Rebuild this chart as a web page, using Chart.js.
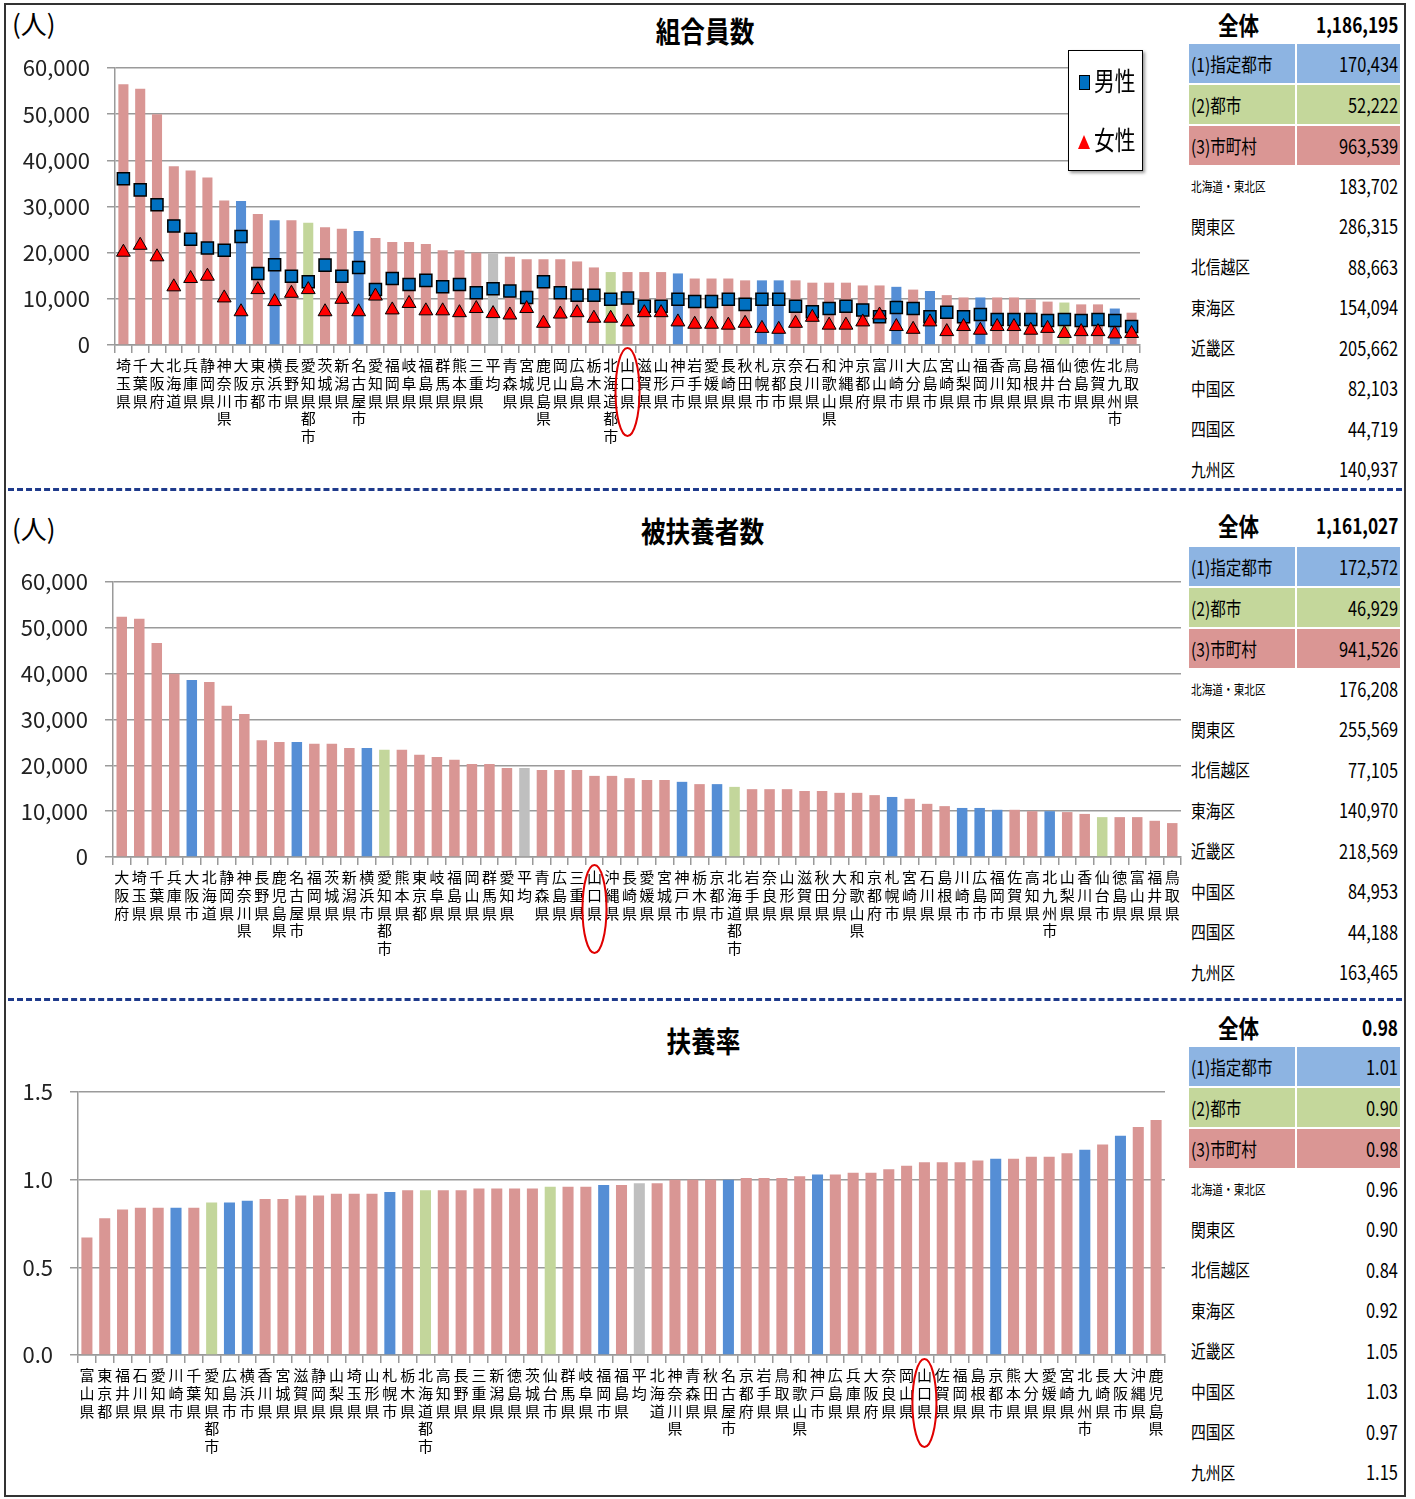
<!DOCTYPE html>
<html lang="ja">
<head>
<meta charset="utf-8">
<script src="https://cdn.jsdelivr.net/npm/chart.js@4.4.1/dist/chart.umd.min.js"></script>
<style>
  body { margin: 0; background: #fff; font-family: "Noto Sans CJK JP", sans-serif; color: #000; }
  #page { position: relative; width: 1415px; height: 1499px; overflow: hidden; }
  .abs { position: absolute; }
  #frame { left: 4px; top: 3px; width: 1402px; height: 1494px; border: 2px solid #333; box-sizing: border-box; }
  .sep { left: 8px; width: 1394px; border-top: 3px dashed #1f3b8c; }
  .unit { font-size: 26px; line-height: 30px; }
  .title { width: 400px; text-align: center; font-weight: bold; font-size: 29px; line-height: 36px; }
  .title span { display: inline-block; transform: scaleX(0.85); }
  .tbl { left: 1189px; width: 211px; }
  .row { display: flex; align-items: center; }
  .row .l { width: 104px; padding-left: 2px; white-space: nowrap; }
  .row .r { flex: 1; text-align: right; padding-right: 2px; white-space: nowrap; }
  .row span { display: inline-block; transform: scaleX(0.82); }
  .row .l span { transform-origin: left center; }
  .row .r span { transform-origin: right center; }
  .hdr .l { text-align: center; font-weight: bold; font-size: 25px; }
  .hdr .r { font-weight: bold; font-size: 21px; }
  .grp { height: 39px; margin-top: 2px; font-size: 19px; }
  .grp .l { margin-right: 2px; height: 100%; display: flex; align-items: center; }
  .grp .r { height: 100%; display: flex; align-items: center; justify-content: flex-end; font-size: 20px; }
  .reg { height: 40.5px; font-size: 18px; }
  .reg .r { font-size: 20px; }
  .legend { left: 1068px; top: 50px; width: 75px; height: 121px; border: 1px solid #000; background: #fff; box-shadow: 2px 2px 3px #999; box-sizing: border-box; }
  .legend .txt { font-size: 26px; line-height: 30px; white-space: nowrap; }
  .legend .txt span { display: inline-block; transform: scaleX(0.8); transform-origin: left center; }
</style>
</head>
<body>
<div id="page">
  <div id="frame" class="abs"></div>

  <div class="abs unit" style="left:12px;top:8px;">(人)</div>
  <div class="abs title" style="left:505px;top:12px;"><span>組合員数</span></div>
  <canvas id="c1" class="abs" width="1180" height="480" style="left:5px;top:5px;"></canvas>
  <div class="abs legend">
    <div class="abs" style="left:10px;top:24px;width:9px;height:13px;background:#0070c0;border:1px solid #000;"></div>
    <div class="abs txt" style="left:25px;top:14px;"><span>男性</span></div>
    <div class="abs" style="left:9px;top:84px;width:0;height:0;border-left:6px solid transparent;border-right:6px solid transparent;border-bottom:14px solid #f00;"></div>
    <div class="abs txt" style="left:25px;top:73px;"><span>女性</span></div>
  </div>
  <div id="t1" class="abs tbl" style="top:5px;"></div>

  <div class="abs sep" style="top:488px;"></div>

  <div class="abs unit" style="left:12px;top:513px;">(人)</div>
  <div class="abs title" style="left:503px;top:512px;"><span>被扶養者数</span></div>
  <canvas id="c2" class="abs" width="1180" height="490" style="left:5px;top:495px;"></canvas>
  <div id="t2" class="abs tbl" style="top:505px;"></div>

  <div class="abs sep" style="top:998px;"></div>

  <div class="abs title" style="left:504px;top:1022px;"><span>扶養率</span></div>
  <canvas id="c3" class="abs" width="1180" height="490" style="left:5px;top:1005px;"></canvas>
  <div id="t3" class="abs tbl" style="top:1009px;"></div>
</div>

<script>
// 組合員数
const cats1 = ['埼玉県','千葉県','大阪府','北海道','兵庫県','静岡県','神奈川県','大阪市','東京都','横浜市',
  '長野県','愛知県都市','茨城県','新潟県','名古屋市','愛知県','福岡県','岐阜県','福島県','群馬県',
  '熊本県','三重県','平均','青森県','宮城県','鹿児島県','岡山県','広島県','栃木県','北海道都市',
  '山口県','滋賀県','山形県','神戸市','岩手県','愛媛県','長崎県','秋田県','札幌市','京都市',
  '奈良県','石川県','和歌山県','沖縄県','京都府','富山県','川崎市','大分県','広島市','宮崎県',
  '山梨県','福岡市','香川県','高知県','島根県','福井県','仙台市','徳島県','佐賀県','北九州市','鳥取県'];
const total1 = [56500,55500,50000,38700,37800,36300,31300,31200,28400,27000,
  27000,26500,25500,25200,24700,23200,22300,22300,21900,20500,
  20500,20000,19800,19100,18600,18600,18600,18100,16800,15800,
  15800,15800,15800,15500,14400,14400,14400,14000,14000,14000,
  14000,13500,13500,13500,12900,12900,12600,12000,11700,10800,
  10300,10300,10300,10300,9900,9400,9200,8800,8800,7900,7000];
const male1 = [36000,33600,30400,25800,22900,21000,20500,23500,15500,17400,
  14900,13700,17300,14900,16800,12000,14400,13100,14000,12600,
  13100,11300,12200,11700,10300,13700,11300,10800,10800,9900,
  10200,8400,8400,9900,9400,9400,9900,8800,9900,9900,
  8400,7200,7900,8400,7600,6100,8100,7900,6100,7100,
  6100,6600,5500,5500,5500,5300,5500,5300,5500,5300,4000];
const female1 = [20100,21600,19100,12600,14400,14900,10200,7200,12000,9400,
  11200,12000,7200,9900,7200,10600,7600,9000,7400,7400,
  7000,7900,6800,6500,7900,4700,6700,7000,5800,5800,
  5000,7000,7000,5000,4500,4500,4300,4700,3600,3400,
  4700,6000,4300,4300,5000,6500,4000,3400,5000,2900,
  4000,3200,4000,4000,3200,3600,2500,2900,2900,2400,2500];

// 被扶養者数
const cats2 = ['大阪府','埼玉県','千葉県','兵庫県','大阪市','北海道','静岡県','神奈川県','長野県','鹿児島県',
  '名古屋市','福岡県','茨城県','新潟県','横浜市','愛知県都市','熊本県','東京都','岐阜県','福島県',
  '岡山県','群馬県','愛知県','平均','青森県','広島県','三重県','山口県','沖縄県','長崎県',
  '愛媛県','宮城県','神戸市','栃木県','京都市','北海道都市','岩手県','奈良県','山形県','滋賀県',
  '秋田県','大分県','和歌山県','京都府','札幌市','宮崎県','石川県','島根県','川崎市','広島市',
  '福岡市','佐賀県','高知県','北九州市','山梨県','香川県','仙台市','徳島県','富山県','福井県','鳥取県'];
const vals2 = [52400,52000,46700,40000,38600,38200,33000,31200,25500,25100,
  25100,24700,24700,23800,23800,23400,23400,22300,21800,21200,
  20300,20300,19400,19400,19000,19000,19000,17700,17700,17200,
  16800,16800,16400,15900,15900,15300,14800,14800,14800,14400,
  14400,14000,14000,13500,13100,12700,11600,11100,10700,10700,
  10300,10300,10000,10000,9800,9400,8700,8700,8700,7900,7400];

// 扶養率
const cats3 = ['富山県','東京都','福井県','石川県','愛知県','川崎市','千葉県','愛知県都市','広島市','横浜市',
  '香川県','宮城県','滋賀県','静岡県','山梨県','埼玉県','山形県','札幌市','栃木県','北海道都市',
  '高知県','長野県','三重県','新潟県','徳島県','茨城県','仙台市','群馬県','岐阜県','福岡市',
  '福島県','平均','北海道','神奈川県','青森県','秋田県','名古屋市','京都府','岩手県','鳥取県',
  '和歌山県','神戸市','広島県','兵庫県','大阪府','奈良県','岡山県','山口県','佐賀県','福岡県',
  '島根県','京都市','熊本県','大分県','愛媛県','宮崎県','北九州市','長崎県','大阪市','沖縄県','鹿児島県'];
const vals3 = [0.67,0.78,0.83,0.84,0.84,0.84,0.84,0.87,0.87,0.88,
  0.89,0.89,0.91,0.91,0.92,0.92,0.92,0.93,0.94,0.94,
  0.94,0.94,0.95,0.95,0.95,0.95,0.96,0.96,0.96,0.97,
  0.97,0.98,0.98,1.00,1.00,1.00,1.00,1.01,1.01,1.01,
  1.02,1.03,1.03,1.04,1.04,1.06,1.08,1.10,1.10,1.10,
  1.11,1.12,1.12,1.13,1.13,1.15,1.17,1.20,1.25,1.30,1.34];

// right-hand tables
const groupLabels = ['(1)指定都市','(2)都市','(3)市町村'];
const regionLabels = ['北海道・東北区','関東区','北信越区','東海区','近畿区','中国区','四国区','九州区'];
const totals = [1186195, 1161027, 0.98];
const groups1 = [170434, 52222, 963539];
const regions1 = [183702, 286315, 88663, 154094, 205662, 82103, 44719, 140937];
const groups2 = [172572, 46929, 941526];
const regions2 = [176208, 255569, 77105, 140970, 218569, 84953, 44188, 163465];
const groups3 = [1.01, 0.90, 0.98];
const regions3 = [0.96, 0.90, 0.84, 0.92, 1.05, 1.03, 0.97, 1.15];

const seirei = ['大阪市','横浜市','名古屋市','神戸市','札幌市','京都市','川崎市','広島市','福岡市','北九州市'];
const toshi = ['愛知県都市','北海道都市','仙台市'];
const groupColors = ['#8db4e2', '#c4d79b', '#da9694'];

function barColor(name) {
  if (name === '平均') return '#bfbfbf';
  if (seirei.includes(name)) return '#558ed5';
  if (toshi.includes(name)) return '#c3d69b';
  return '#d99694';
}

const FONT = '"Noto Sans CJK JP", sans-serif';
Chart.defaults.font.family = FONT;
Chart.defaults.color = '#000';

const ring = {
  id: 'ring',
  afterDraw(chart, args, opts) {
    const xs = chart.scales.x;
    const i = chart.data.labels.indexOf(opts.label);
    if (i < 0) return;
    const ctx = chart.ctx;
    ctx.save();
    ctx.strokeStyle = '#e00000';
    ctx.lineWidth = 2;
    ctx.beginPath();
    ctx.ellipse(xs.getPixelForValue(i), xs.top + opts.dy, 12, 44, 0, 0, Math.PI * 2);
    ctx.stroke();
    ctx.restore();
  }
};

function xAxis(h) {
  return {
    grid: { drawOnChartArea: false, tickLength: 8, color: '#999', lineWidth: 1.5 },
    border: { color: '#999', width: 1.5 },
    ticks: {
      autoSkip: false, maxRotation: 0, minRotation: 0, padding: 4, color: '#000',
      font: { size: 15, lineHeight: 1.17 },
      callback(v) { return this.getLabelForValue(v).split(''); }
    },
    afterFit(s) { s.height = h; }
  };
}

function yAxis(max, step, fmt, w) {
  return {
    min: 0, max: max,
    ticks: { stepSize: step, padding: 17, color: '#222', font: { size: 22 }, callback: fmt },
    grid: { color: '#9a9a9a', lineWidth: 1.5, tickLength: 8 },
    border: { color: '#9a9a9a', width: 1.5 },
    afterFit(s) { s.width = w; }
  };
}

const comma = v => v.toLocaleString('en-US');

function baseOptions(pad, xh, ymax, ystep, yfmt, yw, ringDy) {
  return {
    responsive: false,
    animation: false,
    layout: { padding: pad },
    plugins: { legend: { display: false }, tooltip: { enabled: false }, ring: { label: '山口県', dy: ringDy } },
    scales: { x: xAxis(xh), y: yAxis(ymax, ystep, yfmt, yw) }
  };
}

new Chart(document.getElementById('c1'), {
  type: 'bar',
  data: {
    labels: cats1,
    datasets: [
      { type: 'line', label: '女性', data: female1, showLine: false, pointStyle: 'triangle', pointRadius: 8,
        pointBackgroundColor: '#ff0000', pointBorderColor: '#000', pointBorderWidth: 1, order: 0 },
      { type: 'line', label: '男性', data: male1, showLine: false, pointStyle: 'rect', pointRadius: 8.5,
        pointBackgroundColor: '#0070c0', pointBorderColor: '#000', pointBorderWidth: 1.5, order: 1 },
      { label: '組合員数', data: total1, backgroundColor: cats1.map(barColor),
        barPercentage: 0.6, categoryPercentage: 1, order: 2 }
    ]
  },
  options: baseOptions({ top: 63, right: 45, left: 0, bottom: 0 }, 140, 60000, 10000, comma, 110, 47),
  plugins: [ring]
});

new Chart(document.getElementById('c2'), {
  type: 'bar',
  data: {
    labels: cats2,
    datasets: [{ label: '被扶養者数', data: vals2, backgroundColor: cats2.map(barColor),
      barPercentage: 0.6, categoryPercentage: 1 }]
  },
  options: baseOptions({ top: 87, right: 4, left: 0, bottom: 0 }, 128, 60000, 10000, comma, 108, 52),
  plugins: [ring]
});

new Chart(document.getElementById('c3'), {
  type: 'bar',
  data: {
    labels: cats3,
    datasets: [{ label: '扶養率', data: vals3, backgroundColor: cats3.map(barColor),
      barPercentage: 0.62, categoryPercentage: 1 }]
  },
  options: baseOptions({ top: 87, right: 20, left: 0, bottom: 0 }, 140, 1.5, 0.5, v => v.toFixed(1), 73, 48),
  plugins: [ring]
});

function buildTable(id, total, groups, regions, fmt, hdrH) {
  const el = document.getElementById(id);
  let html = '<div class="row hdr" style="height:' + hdrH + 'px"><div class="l"><span>全体</span></div>' +
    '<div class="r"><span>' + fmt(total) + '</span></div></div>';
  groupLabels.forEach((g, i) => {
    html += '<div class="row grp"><div class="l" style="background:' + groupColors[i] + '"><span>' + g + '</span></div>' +
      '<div class="r" style="background:' + groupColors[i] + '"><span>' + fmt(groups[i]) + '</span></div></div>';
  });
  regionLabels.forEach((r, i) => {
    const small = r.length > 4 ? ' style="font-size:13px"' : '';
    html += '<div class="row reg"><div class="l"' + small + '><span>' + r + '</span></div>' +
      '<div class="r"><span>' + fmt(regions[i]) + '</span></div></div>';
  });
  el.innerHTML = html;
}

buildTable('t1', totals[0], groups1, regions1, comma, 37);
buildTable('t2', totals[1], groups2, regions2, comma, 40);
buildTable('t3', totals[2], groups3, regions3, v => v.toFixed(2), 36);
</script>
</body>
</html>
